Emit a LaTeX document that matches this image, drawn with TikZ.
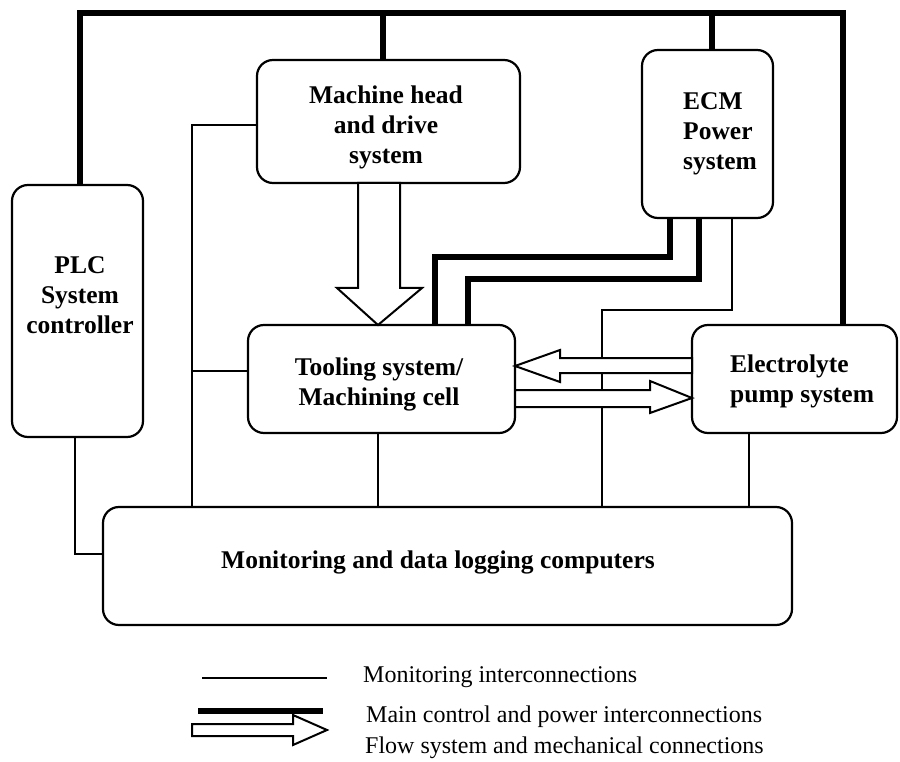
\documentclass[tikz,border=0pt]{standalone}
\usepackage{fontspec}
\setmainfont{Liberation Serif}
\begin{document}
\begin{tikzpicture}[x=1pt,y=-1pt,
  box/.style={draw, line width=2.2pt, rounded corners=16pt, inner sep=0pt},
  lbl/.style={font=\bfseries\fontsize{25.5}{30}\selectfont, inner sep=0pt},
  leg/.style={font=\fontsize{24}{28}\selectfont, anchor=base west, inner sep=0pt},
  mon/.style={line width=2pt},
  power/.style={line width=6pt, line join=miter},
  flow/.style={draw, fill=white, line width=2pt, line join=miter}]
\useasboundingbox (0,0) rectangle (900,762);

% boxes
\node[box, minimum width=131pt, minimum height=252pt] (plc) at (77.5,311) {};
\node[box, minimum width=263pt, minimum height=123pt] (mh) at (388.5,121.5) {};
\node[box, minimum width=131pt, minimum height=168pt] (ecm) at (707.5,134) {};
\node[box, minimum width=267pt, minimum height=108pt] (tool) at (381.5,379) {};
\node[box, minimum width=205pt, minimum height=108pt] (elec) at (794.5,379) {};
\node[box, minimum width=689pt, minimum height=118pt] (monb) at (447.5,566) {};

% texts (anchor base = baseline of last line)
\node[lbl, align=center, anchor=base] (plcT) at (80,333) {PLC\\System\\controller};
\node[lbl, align=center, anchor=base] (mhT) at (386,164) {Machine head\\and drive\\system};
\node[lbl, align=left, anchor=base west] (ecmT) at (683,170) {ECM\\Power\\system};
\node[lbl, align=center, anchor=base] (toolT) at (379,405) {Tooling system/\\Machining cell};
\node[lbl, align=left, anchor=base west] (elecT) at (730,402) {Electrolyte\\pump system};
\node[lbl, anchor=base] (monT) at (438,568) {Monitoring and data logging computers};

% main control and power interconnections
\coordinate (busL) at (80,13);
\coordinate (busR) at (843,13);
\coordinate (busM) at (383,13);
\coordinate (busE) at (712,13);
\draw[power] (busL |- plc.north) -- (busL) -- (busR) -- (busR |- elec.north);
\draw[power] (busM) -- (busM |- mh.north);
\draw[power] (busE) -- (busE |- ecm.north);
\coordinate (pa1) at (670,257);
\coordinate (pa2) at (435,257);
\coordinate (pb1) at (699,279);
\coordinate (pb2) at (468,279);
\draw[power] (pa1 |- ecm.south) -- (pa1) -- (pa2) -- (pa2 |- tool.north);
\draw[power] (pb1 |- ecm.south) -- (pb1) -- (pb2) -- (pb2 |- tool.north);

% monitoring interconnections
\coordinate (lb) at (192,125);
\coordinate (lt) at (192,371);
\draw[mon] (lb -| mh.west) -- (lb) -- (lb |- monb.north);
\draw[mon] (lt) -- (lt -| tool.west);
\coordinate (pm) at (75,554);
\draw[mon] (pm |- plc.south) -- (pm) -- (pm -| monb.west);
\coordinate (tm) at (378,470);
\draw[mon] (tm |- tool.south) -- (tm |- monb.north);
\coordinate (em1) at (732,310);
\coordinate (em2) at (602,310);
\draw[mon] (em1 |- ecm.south) -- (em1) -- (em2) -- (em2 |- monb.north);
\coordinate (elm) at (749,470);
\draw[mon] (elm |- elec.south) -- (elm |- monb.north);

% flow system and mechanical connections
\draw[flow] (358,183) -- (358,288) -- (337,288) -- (378,325) -- (422,288) -- (400,288) -- (400,183) -- cycle;
\draw[flow] (692,358) -- (560,358) -- (560,350) -- (515,366) -- (560,382) -- (560,373) -- (692,373) -- cycle;
\draw[flow] (515,390) -- (650,390) -- (650,381) -- (692,398) -- (650,413) -- (650,407) -- (515,407) -- cycle;

% legend
\coordinate (l1a) at (202,678);
\coordinate (l1b) at (327,678);
\draw[mon] (l1a) -- (l1b);
\coordinate (l2a) at (198,711);
\coordinate (l2b) at (323,711);
\draw[power, line cap=butt] (l2a) -- (l2b);
\draw[flow] (192,724) -- (293,724) -- (293,715) -- (327,730) -- (293,745) -- (293,736) -- (192,736) -- cycle;
\node[leg] (leg1) at (363,682) {Monitoring interconnections};
\node[leg] (leg2) at (366,722) {Main control and power interconnections};
\node[leg] (leg3) at (365,753) {Flow system and mechanical connections};
\end{tikzpicture}
\end{document}
